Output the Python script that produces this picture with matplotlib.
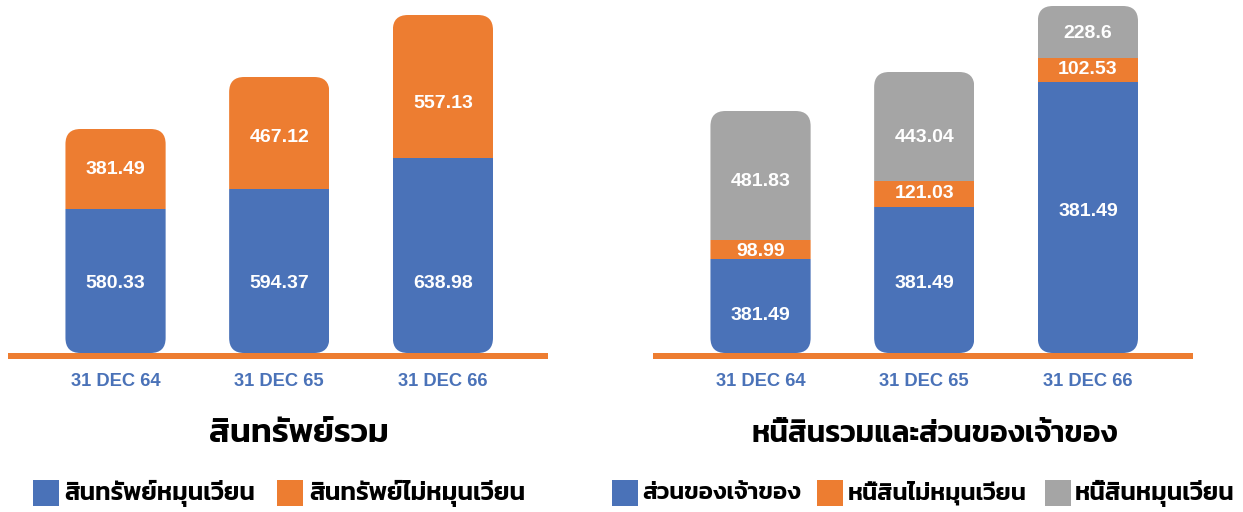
import matplotlib

matplotlib.use("Agg")
import matplotlib.pyplot as plt
import numpy as np
from matplotlib.patches import FancyBboxPatch, Rectangle

# categories
periods = ["31 DEC 64", "31 DEC 65", "31 DEC 66"]

# left chart: total assets (segment heights as drawn, labels as printed)
current_assets_h = [144, 164, 195]
noncurrent_assets_h = [80, 112, 143]
current_assets_lbl = ["580.33", "594.37", "638.98"]
noncurrent_assets_lbl = ["381.49", "467.12", "557.13"]

# right chart: liabilities and equity
equity_h = [94, 146, 271]
noncurrent_liab_h = [19, 26, 24]
current_liab_h = [129, 109, 52]
equity_lbl = ["381.49", "381.49", "381.49"]
noncurrent_liab_lbl = ["98.99", "121.03", "102.53"]
current_liab_lbl = ["481.83", "443.04", "228.6"]

BLUE = "#4a72b8"
ORANGE = "#ed7d31"
GRAY = "#a5a5a5"
THAI = ["Kanit", "DejaVu Sans"]
NUM = "Liberation Sans"

W, H = 1243, 512
fig = plt.figure(figsize=(W / 100, H / 100), dpi=100)


def px_axes(x0, x1):
    # axes spans the orange baseline; y data units = pixels above baseline
    ax = fig.add_axes([x0 / W, (H - 359) / H, (x1 - x0) / W, 359 / H])
    ax.set_xlim(-0.657, 2.642)
    ax.set_ylim(-6, 353)
    ax.axis("off")
    ax.axhspan(-6, 0, color=ORANGE, lw=0)
    return ax


def stacked(ax, series):
    x = np.arange(len(periods))
    w = 0.612
    bottom = np.zeros(len(periods))
    segs = []
    for heights, labels, color, ly in series:
        bars = ax.bar(x, heights, w, bottom=bottom, color=color, lw=0)
        segs.append(bars)
        for xi, lab, yy in zip(x, labels, ly):
            ax.text(xi, yy, lab, ha="center", va="center", color="white",
                    family=NUM, weight="bold", fontsize=14)
        bottom = bottom + np.array(heights)
    # rounded outline per stack, used to clip its segments
    for i, (xi, top) in enumerate(zip(x, bottom)):
        p = FancyBboxPatch((xi - w / 2, 0), w, top,
                           boxstyle="round,pad=0,rounding_size=0.092",
                           mutation_aspect=163.5, fill=False, lw=0)
        ax.add_patch(p)
        for bars in segs:
            bars[i].set_clip_path(p)
    for xi, lab in zip(x, periods):
        ax.text(xi, -29, lab, ha="center", va="center", color=BLUE,
                family=NUM, weight="bold", fontsize=13.2, clip_on=False)


axl = px_axes(8, 548)
stacked(axl, [
    (current_assets_h, current_assets_lbl, BLUE, [69, 69, 69]),
    (noncurrent_assets_h, noncurrent_assets_lbl, ORANGE, [183, 215, 249]),
])

axr = px_axes(653, 1193)
stacked(axr, [
    (equity_h, equity_lbl, BLUE, [37, 69, 142]),
    (noncurrent_liab_h, noncurrent_liab_lbl, ORANGE, [101, 160, 283]),
    (current_liab_h, current_liab_lbl, GRAY, [172, 215, 320]),
])

renderer = fig.canvas.get_renderer()


def fit_text(x, y, s, width, fs=20):
    # scale the font so the text spans the same width as in the original
    t = fig.text(x / W, 1 - y / H, s, family=THAI, weight=600, fontsize=fs,
                 va="center", ha="left")
    ext = t.get_window_extent(renderer)
    t.set_fontsize(fs * width / ext.width)
    return t


# titles (centre x, width in px)
for cx, s, wd in [(299, "สินทรัพย์รวม", 180), (935, "หนี้สินรวมและส่วนของเจ้าของ", 368)]:
    fit_text(cx - wd / 2, 434, s, wd, 24)

# legends: (square x, colour, text, text start, text end)
legend = [
    (33, BLUE, "สินทรัพย์หมุนเวียน", 64, 255),
    (277, ORANGE, "สินทรัพย์ไม่หมุนเวียน", 309, 525),
    (612, BLUE, "ส่วนของเจ้าของ", 642, 800),
    (817, ORANGE, "หนี้สินไม่หมุนเวียน", 848, 1027),
    (1045, GRAY, "หนี้สินหมุนเวียน", 1075, 1234),
]
for sx, col, s, t0, t1 in legend:
    fig.add_artist(Rectangle((sx / W, 1 - 506 / H), 26 / W, 26 / H, color=col,
                             transform=fig.transFigure, lw=0))
    fit_text(t0, 493, s, t1 - t0, 18)

fig.savefig("out.png", dpi=100)
